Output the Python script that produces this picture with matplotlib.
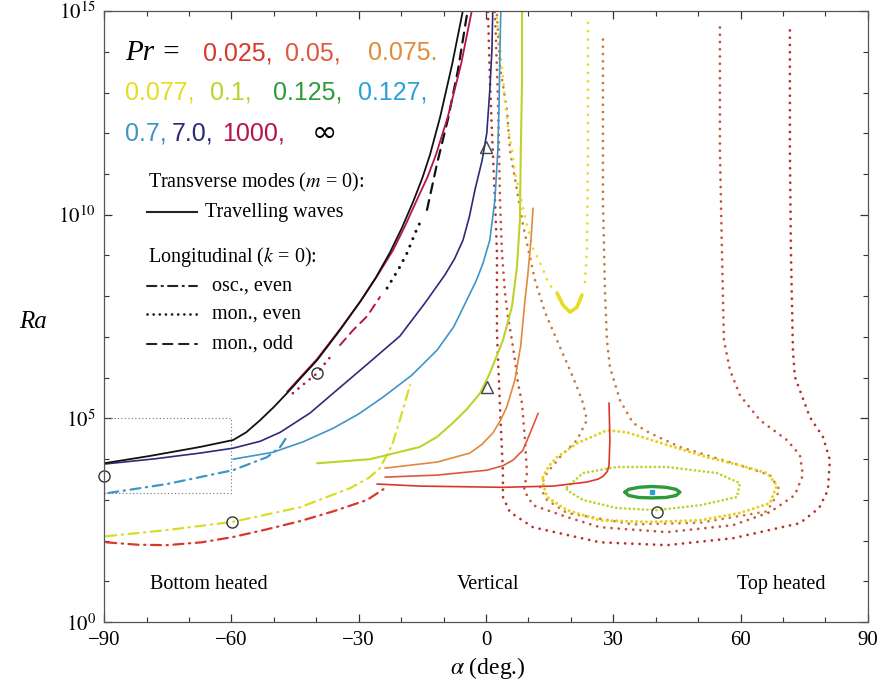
import numpy as np
import matplotlib.pyplot as plt
from matplotlib.ticker import FixedLocator, FuncFormatter, NullFormatter
from matplotlib.lines import Line2D

plt.rcParams['font.family'] = ['Liberation Serif', 'DejaVu Serif']
plt.rcParams['mathtext.fontset'] = 'stix'

# colours of the Prandtl numbers
col = {
    '0.025': '#d8382c', '0.05': '#e0583c', '0.075': '#e08a3c',
    '0.077': '#e8dc20', '0.1': '#bcd42a', '0.125': '#2e9a3a',
    '0.127': '#2aa0d8', '0.7': '#3f95c8', '7.0': '#2e2a7a',
    '1000': '#b8124f', 'inf': '#111111',
}

# ---- data: alpha (deg) and log10(Ra) ----
# travelling waves (solid)
inf_tw_a = [-90, -79.2, -67.4, -59.6, -56.5, -53.2, -50.0, -46.9, -43.5, -39.8, -34.4, -29.7, -26.0,
            -22.6, -19.8, -17.2, -15.0, -13.2, -10.8, -8.0, -5.4]
inf_tw_r = [3.90, 4.08, 4.30, 4.47, 4.66, 4.96, 5.28, 5.62, 6.01, 6.43, 7.17, 7.86, 8.45,
            9.08, 9.68, 10.31, 10.90, 11.47, 12.40, 13.68, 15.03]
pr1000_tw_a = [-46.9, -43.4, -39.8, -34.4, -29.2, -25.5, -21.9, -19.0, -16.3, -13.8, -11.8, -9.0, -5.9, -3.3]
pr1000_tw_r = [5.65, 6.05, 6.46, 7.19, 7.93, 8.52, 9.13, 9.74, 10.36, 10.92, 11.47, 12.40, 13.68, 15.03]
pr7_tw_a = [-90, -78.0, -67.4, -59.6, -53.2, -48.5, -41.5, -36.0, -28.0, -20.3, -14.4, -9.7, -7.4, -5.4,
            -3.9, -2.6, -0.9, 0.2, 0.9, 1.4, 1.6]
pr7_tw_r = [3.88, 4.01, 4.15, 4.27, 4.44, 4.66, 5.13, 5.62, 6.33, 7.02, 7.83, 8.52, 8.92, 9.38,
            9.96, 10.61, 11.34, 12.01, 13.06, 14.04, 15.03]
pr07_tw_a = [-59.6, -50.2, -43.0, -36.0, -30.0, -24.3, -17.5, -11.5, -7.6, -4.5, -2.3, -0.7, 0.9, 2.1,
             2.8, 3.1, 3.3, 3.5]
pr07_tw_r = [4.00, 4.17, 4.43, 4.76, 5.11, 5.52, 6.06, 6.68, 7.25, 7.91, 8.38, 8.81, 9.38, 10.36,
             11.59, 12.82, 14.04, 15.03]
pr01_tw_a = [-39.8, -27.3, -15.6, -11.5, -7.8, -4.4, -1.4, 0.9, 4.0, 6.1, 7.3, 8.0, 8.2, 8.5, 8.5]
pr01_tw_r = [3.90, 4.00, 4.30, 4.55, 4.89, 5.24, 5.62, 6.11, 6.92, 7.73, 8.72, 9.87, 11.59, 13.31, 15.03]
pr075_tw_a = [-23.8, -11.5, -3.8, -1.0, 1.6, 3.4, 4.9, 6.8, 8.2, 9.2, 9.9, 10.6, 11.1]
pr075_tw_r = [3.78, 3.93, 4.15, 4.36, 4.64, 4.95, 5.28, 5.94, 6.80, 7.91, 8.57, 9.38, 10.16]
pr005_tw_a = [-23.8, -11.5, 0.2, 4.0, 6.4, 8.7, 10.4, 12.3]
pr005_tw_r = [3.56, 3.61, 3.73, 3.84, 3.98, 4.22, 4.64, 5.13]
pr0025_tw_a = [-25.7, -15.6, 4.0, 15.8, 23.8, 26.4, 27.6, 28.6, 29.0, 29.2, 29.0]
pr0025_tw_r = [3.39, 3.34, 3.31, 3.34, 3.44, 3.51, 3.58, 3.70, 3.85, 4.47, 5.38]

# longitudinal, oscillatory even (dash-dot)
pr07_osc_a = [-89, -75.2, -59.6, -51.6, -48.5, -47.1]
pr07_osc_r = [3.17, 3.39, 3.73, 4.05, 4.30, 4.52]
pr0077_osc_a = [-89.5, -75.2, -59.8, -43.8, -32.0, -27.5, -25.0, -22.1, -20.3, -17.9]
pr0077_osc_r = [2.11, 2.26, 2.46, 2.82, 3.29, 3.55, 3.78, 4.35, 4.96, 5.82]
pr0025_osc_a = [-89.5, -82.0, -75.2, -67.0, -59.6, -52.0, -43.8, -36.0, -28.0, -23.8]
pr0025_osc_r = [1.96, 1.90, 1.89, 1.96, 2.09, 2.27, 2.48, 2.72, 3.00, 3.29]

# longitudinal, monotonic even (dotted)
pr1000_mon_a = [-45.5, -43.8, -39.8, -36.0]
pr1000_mon_r = [5.62, 5.77, 6.11, 6.60]
inf_mon_a = [-23.3, -20.3, -18.6, -16.7, -15.5]
inf_mon_r = [8.20, 8.72, 9.06, 9.55, 9.82]
pr0025_mon_a = [0.47, 0.94, 1.41, 2.12, 2.59, 2.59, 3.30, 4.00, 4.00, 5.65, 11.07, 26.86, 42.64, 58.19,
                73.98, 78.5, 80.57, 81.05, 79.4, 76.33, 72.80, 72.33, 71.86, 71.62, 71.62]
pr0025_mon_r = [14.98, 13.31, 12.01, 10.36, 9.06, 7.10, 5.28, 3.66, 3.07, 2.70, 2.33, 1.96, 1.89, 2.06,
                2.43, 2.80, 3.24, 3.98, 4.55, 5.03, 6.02, 6.68, 9.13, 11.59, 14.66]
pr005_mon_a = [2.12, 2.83, 3.30, 3.77, 4.48, 5.18, 6.12, 6.83, 7.54, 8.48, 9.19, 9.66, 8.95, 11.07, 19.08,
               26.86, 42.64, 58.19, 66.91, 72.80, 74.68, 73.98, 70.91, 64.55, 59.84, 57.49, 56.07, 55.60,
               55.13, 55.13]
pr005_mon_r = [14.98, 12.82, 10.36, 9.06, 8.08, 7.49, 6.92, 6.43, 5.87, 5.38, 4.47, 3.66, 3.24, 2.87, 2.58,
               2.33, 2.21, 2.38, 2.70, 3.12, 3.61, 4.10, 4.47, 4.96, 5.57, 6.19, 6.92, 9.13, 11.59, 14.66]
pr0075_mon_a = [2.59, 3.30, 4.95, 5.65, 7.30, 8.72, 11.54, 13.90, 17.43, 19.79, 21.44, 22.86, 23.80, 21.44,
                17.43, 14.37, 12.72, 14.37, 19.08, 34.63, 50.42, 66.20, 69.27, 66.91, 59.84, 45.71, 38.64,
                34.63, 31.57, 29.21, 28.50, 28.04, 27.56, 27.56, 27.56]
pr0075_mon_r = [14.90, 13.63, 12.57, 11.59, 10.61, 9.75, 8.40, 7.61, 6.75, 6.19, 5.77, 5.38, 4.96, 4.47,
                4.05, 3.66, 3.31, 3.00, 2.68, 2.40, 2.44, 2.72, 3.24, 3.61, 3.85, 4.30, 4.64, 4.89, 5.45,
                6.26, 6.92, 8.15, 10.36, 12.82, 14.40]
pr0077_mon_a = [2.59, 3.77, 4.48, 5.18, 6.12, 6.83, 8.01, 9.19, 11.07, 13.19, 14.61, 16.26]
pr0077_mon_r = [14.83, 13.63, 12.82, 12.15, 11.59, 11.02, 10.53, 9.94, 9.18, 8.72, 8.35, 8.10]
pr0077_min_a = [16.73, 18.14, 19.79, 21.44, 22.62]
pr0077_min_r = [8.08, 7.78, 7.61, 7.73, 8.03]
pr0077_mon2_a = [23.32, 23.80, 24.03, 24.03]
pr0077_mon2_r = [8.35, 9.13, 11.59, 14.78]
pr0077_loop_a = [13.43, 14.8, 16.73, 21.44, 28.50, 33.22, 42.64, 52.07, 59.84, 66.20, 68.56, 66.91, 59.84,
                 50.42, 38.64, 26.86, 19.08, 14.37, 13.43]
pr0077_loop_r = [3.56, 3.83, 4.05, 4.39, 4.71, 4.66, 4.35, 4.05, 3.85, 3.66, 3.36, 2.92, 2.68,
                 2.50, 2.46, 2.50, 2.75, 3.07, 3.41]
pr01_loop_a = [19.08, 22.86, 30.86, 42.64, 54.42, 59.84, 59.13, 50.42, 40.29, 30.86, 22.86, 19.08]
pr01_loop_r = [3.31, 3.66, 3.81, 3.81, 3.66, 3.41, 3.07, 2.87, 2.75, 2.80, 3.00, 3.24]
pr0125_loop_a = [32.75, 33.6, 36.0, 39.1, 42.4, 44.8, 45.7, 44.8, 42.4, 39.1, 36.0, 33.6]
pr0125_loop_r = [3.19, 3.26, 3.31, 3.33, 3.31, 3.26, 3.19, 3.11, 3.06, 3.05, 3.06, 3.11]
pr0127_pt_a = [39.1]
pr0127_pt_r = [3.19]

# longitudinal, monotonic odd (dashed)
pr1000_odd_a = [-34.4, -31.3, -28.0, -25.0]
pr1000_odd_r = [6.80, 7.17, 7.51, 7.98]
inf_odd_a = [-13.9, -11.5, -9.0, -6.6, -4.5]
inf_odd_r = [10.12, 11.27, 12.33, 13.55, 14.90]

# special points
circle_a = [-90, -59.8, -39.8, 40.3]
circle_r = [3.58, 2.46, 6.11, 2.70]
tri_a = [0.0, 0.2]
tri_r = [11.66, 5.77]

# zoom box
box_a = [-90, -60, -60, -90, -90]
box_r = [5.0, 5.0, 3.17, 3.17, 5.0]

DOT = (0, (0.01, 2.6))
DASHDOT = (0, (4.5, 2.5, 0.6, 2.5))
DASH = (0, (4.5, 3.2))

fig = plt.figure(figsize=(8.82, 6.89), dpi=100)
ax = fig.add_axes([0.118, 0.097, 0.866, 0.887])


def p(a, r, c, ls='-', lw=1.1, closed=False, **kw):
    a = np.asarray(a)
    r = np.asarray(r)
    if closed:
        a = np.r_[a, a[:1]]
        r = np.r_[r, r[:1]]
    ax.plot(a, 10.0 ** r, color=c, ls=ls, lw=lw, dash_capstyle='round',
            solid_capstyle='round', solid_joinstyle='round', **kw)


# gray dotted box
p(box_a, box_r, '#777777', ls=(0, (0.01, 2.5)), lw=1.0)

# dotted (mon., even)
p(pr0025_mon_a, pr0025_mon_r, '#b8302c', ls=DOT, lw=2.0)
p(pr005_mon_a, pr005_mon_r, '#c8503a', ls=DOT, lw=2.0)
p(pr0075_mon_a, pr0075_mon_r, '#c87a3a', ls=DOT, lw=2.0)
p(pr0077_mon_a, pr0077_mon_r, col['0.077'], ls=(0, (0.01, 3.0)), lw=2.0)
p(pr0077_mon2_a, pr0077_mon2_r, col['0.077'], ls=(0, (0.01, 3.0)), lw=2.0)
p(pr0077_loop_a, pr0077_loop_r, '#e8d020', ls=(0, (0.01, 1.6)), lw=2.2, closed=True)
p(pr01_loop_a, pr01_loop_r, col['0.1'], ls=(0, (0.01, 1.6)), lw=2.0, closed=True)
p(pr1000_mon_a, pr1000_mon_r, col['1000'], ls=DOT, lw=2.0)
p(inf_mon_a, inf_mon_r, col['inf'], ls=DOT, lw=2.2)

# yellow minimum and the green/blue island
p(pr0077_min_a, pr0077_min_r, col['0.077'], lw=2.6)
p(pr0125_loop_a, pr0125_loop_r, col['0.125'], lw=2.4, closed=True)
ax.plot(pr0127_pt_a, 10.0 ** np.asarray(pr0127_pt_r), 's', color=col['0.127'], ms=3.5)

# dash-dot (osc., even)
p(pr07_osc_a, pr07_osc_r, col['0.7'], ls=DASHDOT, lw=1.6)
p(pr0077_osc_a, pr0077_osc_r, '#d8dc28', ls=DASHDOT, lw=1.6)
p(pr0025_osc_a, pr0025_osc_r, col['0.025'], ls=DASHDOT, lw=1.6)

# dashed (mon., odd)
p(pr1000_odd_a, pr1000_odd_r, col['1000'], ls=DASH, lw=1.4)
p(inf_odd_a, inf_odd_r, col['inf'], ls=DASH, lw=1.6)

# solid travelling waves
p(pr0025_tw_a, pr0025_tw_r, col['0.025'], lw=1.2)
p(pr005_tw_a, pr005_tw_r, col['0.05'], lw=1.2)
p(pr075_tw_a, pr075_tw_r, col['0.075'], lw=1.2)
p(pr01_tw_a, pr01_tw_r, col['0.1'], lw=1.5)
p(pr07_tw_a, pr07_tw_r, col['0.7'], lw=1.2)
p(pr7_tw_a, pr7_tw_r, col['7.0'], lw=1.2)
p(pr1000_tw_a, pr1000_tw_r, col['1000'], lw=1.3)
p(inf_tw_a, inf_tw_r, col['inf'], lw=1.3)

# markers
ax.plot(circle_a, 10.0 ** np.asarray(circle_r), 'o', mfc='none', mec='#333333', ms=8, mew=1.0,
        clip_on=False)
ax.plot(tri_a, 10.0 ** np.asarray(tri_r), '^', mfc='none', mec='#444444', ms=8, mew=1.0)

# axes
ax.set_xlim(-90, 90)
ax.set_yscale('log')
ax.set_ylim(1, 1e15)
ax.xaxis.set_major_locator(FixedLocator([-90, -60, -30, 0, 30, 60, 90]))
ax.xaxis.set_minor_locator(FixedLocator(np.arange(-90, 91, 10)))
ax.yaxis.set_major_locator(FixedLocator([1, 1e5, 1e10, 1e15]))
ax.yaxis.set_minor_locator(FixedLocator(10.0 ** np.arange(0, 16)))
ax.yaxis.set_minor_formatter(NullFormatter())
ax.yaxis.set_major_formatter(FuncFormatter(lambda v, pos: r'$10^{%d}$' % round(np.log10(v))))
ax.xaxis.set_major_formatter(FuncFormatter(lambda v, pos: '%d' % v if v >= 0 else '\u2212%d' % -v))
ax.tick_params(which='both', direction='in', top=True, right=True, colors='#333333',
               labelcolor='black', labelsize=15)
ax.tick_params(which='major', length=6, width=0.9, pad=6)
ax.tick_params(which='minor', length=3.5, width=0.8)
for s in ax.spines.values():
    s.set_color('#555555')
    s.set_linewidth(0.9)

fig.text(0.037, 0.533, 'Ra', style='italic', fontsize=18, ha='center', va='center')
fig.text(0.553, 0.030, r'$\alpha$ (deg.)', fontsize=17, ha='center', va='center')

# Pr colour key
T = ax.transAxes
sans = ['Liberation Sans', 'DejaVu Sans']
ax.text(0.0275, 0.931, 'Pr =', style='italic', fontsize=21, transform=T, va='center')
key_rows = [
    [(0.130, '0.025,', col['0.025']), (0.237, '0.05,', col['0.05']), (0.346, '0.075.', col['0.075'])],
    [(0.0275, '0.077,', col['0.077']), (0.139, '0.1,', col['0.1']), (0.221, '0.125,', col['0.125']),
     (0.332, '0.127,', col['0.127'])],
    [(0.0275, '0.7,', col['0.7']), (0.089, '7.0,', col['7.0']), (0.154, '1000,', col['1000'])],
]
for yy, row in zip([0.931, 0.867, 0.800], key_rows):
    for xx, s, c in row:
        ax.text(xx, yy, s, color=c, fontsize=18, family=sans, transform=T, va='center')
ax.text(0.272, 0.800, '\u221e', color='black', fontsize=22, family=['DejaVu Sans'], transform=T,
        va='center')

# line style key
ax.text(0.058, 0.720, 'Transverse modes ($m$ = 0):', fontsize=14.5, transform=T, va='center')
ax.text(0.058, 0.597, 'Longitudinal ($k$ = 0):', fontsize=14.5, transform=T, va='center')
keys = [(0.671, '-', 'Travelling waves', 0.132),
        (0.550, DASHDOT, 'osc., even', 0.141),
        (0.504, (0, (0.01, 2.2)), 'mon., even', 0.141),
        (0.455, DASH, 'mon., odd', 0.141)]
for yy, ls, lab, tx in keys:
    lw = 2.0 if lab == 'mon., even' else 1.5
    ax.add_line(Line2D([0.056, 0.122], [yy, yy], transform=T, color='#222222', ls=ls, lw=lw,
                       dash_capstyle='round'))
    ax.text(tx, yy, lab, fontsize=14.5, transform=T, va='center')

# region labels
for xx, s in [(0.137, 'Bottom heated'), (0.503, 'Vertical'), (0.887, 'Top heated')]:
    ax.text(xx, 0.061, s, fontsize=14.5, transform=T, ha='center', va='center')

fig.savefig('out.png', dpi=100)
